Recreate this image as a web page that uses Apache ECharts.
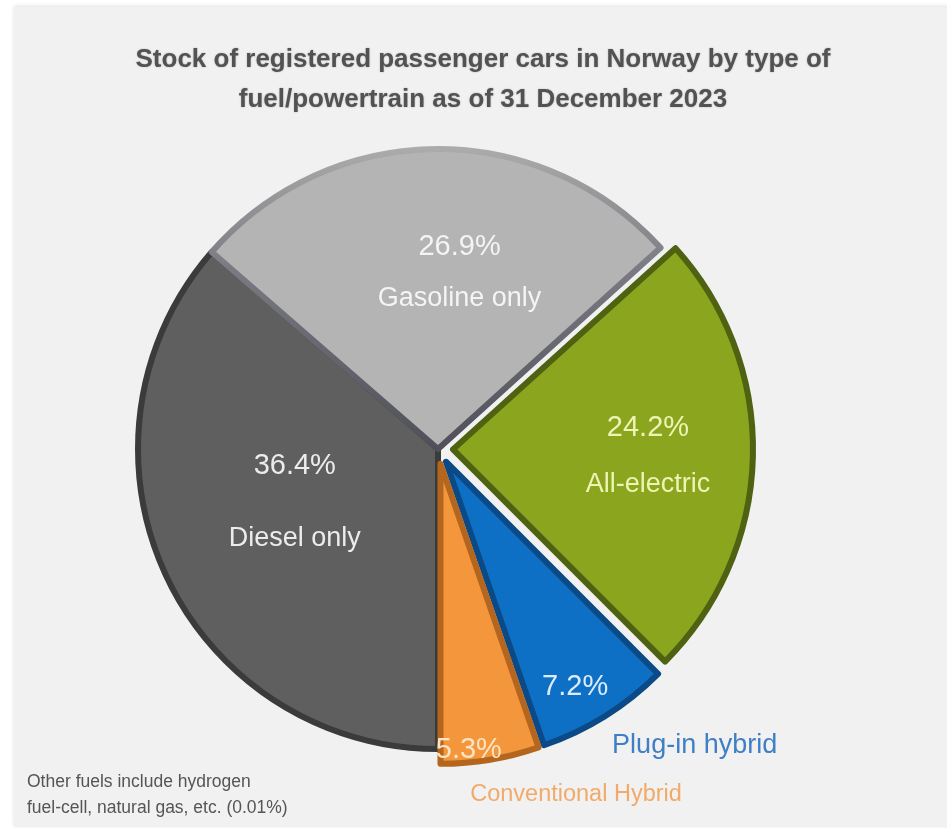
<!DOCTYPE html>
<html>
<head>
<meta charset="utf-8">
<script src="https://cdn.jsdelivr.net/npm/echarts@6/dist/echarts.min.js"></script>
<style>
  html, body { margin: 0; padding: 0; background: #ffffff; }
  #chart { width: 947px; height: 829px; }
</style>
</head>
<body>
<div id="chart"></div>
<script>
// Stock of registered passenger cars in Norway, 31 Dec 2023, share by fuel/powertrain (%)
const fuelTypes = ['Diesel only', 'Gasoline only', 'All-electric', 'Plug-in hybrid', 'Conventional Hybrid'];
const sharePct = [36.4, 26.9, 24.2, 7.2, 5.3];
const titleLines = ['Stock of registered passenger cars in Norway by type of', 'fuel/powertrain as of 31 December 2023'];
const noteLines = ['Other fuels include hydrogen', 'fuel-cell, natural gas, etc. (0.01%)'];

// Slice appearance, keyed by category
const sliceStyle = {
  'Diesel only':         { fill: '#5f5f5f', edge: '#3b3b3b', text: '#ececec', gap: 72, shift: [-4, -10], nameInside: true, selected: false },
  'Gasoline only':       { fill: '#b4b4b4',
                           edge: { type: 'linear', x: 0, y: 0, x2: 0, y2: 1,
                                   colorStops: [{ offset: 0, color: '#acacac' }, { offset: 0.4, color: '#7a7a82' }, { offset: 1, color: '#4f4f59' }] },
                           text: '#f4f4f4', gap: 52, shift: [23, -23], nameInside: true, selected: false },
  'All-electric':        { fill: '#8ba51f', edge: '#4e6211', text: '#eef4b4', gap: 56, shift: [42, 3], nameInside: true, selected: true },
  'Plug-in hybrid':      { fill: '#0e70c4', edge: '#0b4a86', text: '#dcecff', gap: 30, shift: [48, 96], nameInside: false, selected: true,
                           outsideColor: '#3f7fc5', outsideSize: 27, outsideShift: [-28, 30] },
  'Conventional Hybrid': { fill: '#f3963c', edge: '#b4661f', text: '#ffe3c2', gap: 30, shift: [3, 135], nameInside: false, selected: true,
                           outsideColor: '#f2aa6a', outsideSize: 23.5, outsideShift: [-55, 35] }
};

const labelFont = "'Liberation Sans', Arial, sans-serif";

const pieData = fuelTypes.map((name, i) => {
  const s = sliceStyle[name];
  return {
    name: name,
    value: sharePct[i],
    selected: s.selected,
    itemStyle: { color: s.fill, borderColor: s.edge, borderWidth: 6, borderJoin: 'round' },
    label: {
      show: true,
      position: 'inside',
      formatter: (p) => s.nameInside
        ? '{v|' + p.value.toFixed(1) + '%}\n{n|' + p.name + '}'
        : '{v|' + p.value.toFixed(1) + '%}',
      rich: {
        v: { color: s.text, fontSize: 29, fontFamily: labelFont, lineHeight: s.gap },
        n: { color: s.text, fontSize: 27, fontFamily: labelFont, lineHeight: s.gap }
      }
    }
  };
});

// Names for the two small slices sit outside the pie
const outerNames = fuelTypes.map((name, i) => {
  const s = sliceStyle[name];
  return {
    name: name,
    value: sharePct[i],
    itemStyle: { color: 'rgba(0,0,0,0)', borderWidth: 0 },
    label: s.nameInside ? { show: false } : {
      show: true,
      position: 'outside',
      offset: s.outsideShift,
      formatter: '{b}',
      color: s.outsideColor,
      fontSize: s.outsideSize,
      fontFamily: labelFont
    }
  };
});

const chart = echarts.init(document.getElementById('chart'), null, { renderer: 'canvas' });

chart.setOption({
  animation: false,
  backgroundColor: '#ffffff',
  graphic: [
    {
      type: 'rect', z: -10,
      shape: { x: 14, y: 7, width: 940, height: 820 },
      style: { fill: '#f1f1f1', shadowColor: 'rgba(0,0,0,0.12)', shadowBlur: 4, shadowOffsetY: -1 }
    },
    {
      type: 'text', left: 27, top: 769,
      style: {
        text: noteLines.join('\n'),
        font: "17.5px 'Liberation Sans', sans-serif",
        fill: '#555555', lineHeight: 26
      }
    }
  ],
  title: {
    text: titleLines.join('\n'),
    left: 478,
    textAlign: 'center',
    top: 35,
    textStyle: {
      fontFamily: "'Liberation Sans', Arial, sans-serif",
      fontWeight: 'bold',
      fontSize: 26,
      lineHeight: 40,
      color: '#525252',
      textShadowColor: 'rgba(0,0,0,0.25)',
      textShadowBlur: 2
    }
  },
  series: [
    {
      type: 'pie',
      center: [438, 449],
      radius: 300,
      startAngle: -90,
      clockwise: true,
      selectedMode: 'multiple',
      selectedOffset: 15,
      avoidLabelOverlap: false,
      silent: true,
      labelLine: { show: false },
      labelLayout: (p) => {
        const s = sliceStyle[fuelTypes[p.dataIndex]];
        return { dx: s.shift[0], dy: s.shift[1] };
      },
      emphasis: { disabled: true },
      data: pieData
    },
    {
      type: 'pie',
      center: [438, 449],
      radius: 300,
      startAngle: -90,
      clockwise: true,
      selectedMode: false,
      avoidLabelOverlap: false,
      silent: true,
      z: 3,
      labelLine: { show: false },
      emphasis: { disabled: true },
      data: outerNames
    }
  ]
});
</script>
</body>
</html>
